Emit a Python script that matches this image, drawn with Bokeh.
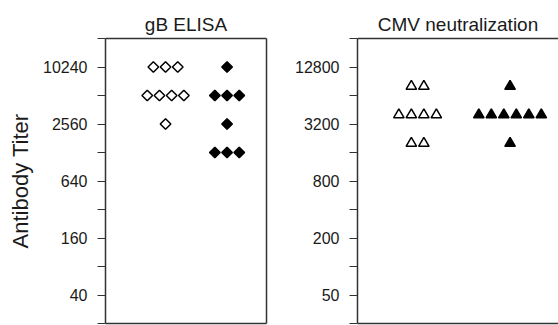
from bokeh.plotting import figure
from bokeh.layouts import row
from bokeh.models import FixedTicker, LinearAxis, Range1d
from bokeh.embed import file_html
from bokeh.resources import INLINE

# ---- data ----
gb_title = "gB ELISA"
cmv_title = "CMV neutralization"
y_label = "Antibody Titer"

gb_open = [10240, 10240, 10240, 5120, 5120, 5120, 5120, 2560]
gb_filled = [10240, 5120, 5120, 5120, 2560, 1280, 1280, 1280]
cmv_open = [8000, 8000, 4000, 4000, 4000, 4000, 2000, 2000]
cmv_filled = [8000, 4000, 4000, 4000, 4000, 4000, 4000, 2000]

gb_ticks = [20, 40, 80, 160, 320, 640, 1280, 2560, 5120, 10240, 20480]
gb_labels = ["", "40", "", "160", "", "640", "", "2560", "", "10240", ""]
cmv_ticks = [25, 50, 100, 200, 400, 800, 1600, 3200, 6400, 12800, 25600]
cmv_labels = ["", "50", "", "200", "", "800", "", "3200", "", "12800", ""]

gb_groups = [0.373, 0.755]
cmv_groups = [0.299, 0.759]

FONT = "Liberation Sans"
AX = "#333333"
TXT = "#1a1a1a"


def spread(values, center, pitch):
    xs, ys = [], []
    for v in sorted(set(values), reverse=True):
        n = values.count(v)
        for i in range(n):
            xs.append(center + (i - (n - 1) / 2) * pitch)
            ys.append(v)
    return xs, ys


def make_panel(title, ticks, labels, width, left_border, right_border, right_line):
    p = figure(width=width, height=325, y_axis_type="log",
               x_range=Range1d(0, 1), y_range=Range1d(ticks[0], ticks[-1]),
               output_backend="svg", toolbar_location=None,
               min_border_left=left_border, min_border_right=right_border,
               min_border_top=38, min_border_bottom=2, title=title)
    p.title.text_font = FONT
    p.title.text_font_size = "19px"
    p.title.text_font_style = "normal"
    p.title.align = "center"
    p.title.text_color = TXT
    p.title.standoff = 7
    p.outline_line_color = None
    p.grid.visible = False
    p.background_fill_color = "white"
    p.border_fill_color = "white"
    p.xaxis.visible = False
    ya = p.yaxis[0]
    ya.ticker = FixedTicker(ticks=ticks, minor_ticks=[])
    ya.major_label_overrides = {t: l for t, l in zip(ticks, labels)}
    ya.major_label_text_font = FONT
    ya.major_label_text_font_size = "16px"
    ya.major_label_text_color = TXT
    ya.major_label_standoff = 10
    ya.major_tick_out = 8
    ya.major_tick_in = 0
    ya.axis_line_color = AX
    ya.axis_line_width = 1.5
    ya.major_tick_line_color = AX
    ya.major_tick_line_width = 1.2
    sides = ["above", "below"] + (["right"] if right_line else [])
    for side in sides:
        ax = LinearAxis(ticker=FixedTicker(ticks=[]), major_label_text_font_size="0px",
                        axis_line_color=AX, axis_line_width=1.5,
                        major_tick_line_color=None, minor_tick_line_color=None)
        p.add_layout(ax, side)
    return p


left = make_panel(gb_title, gb_ticks, gb_labels, 270, 105, 4, True)
right = make_panel(cmv_title, cmv_ticks, cmv_labels, 288, 87, 0, False)

ya = left.yaxis[0]
ya.axis_label = y_label
ya.axis_label_text_font = FONT
ya.axis_label_text_font_size = "22px"
ya.axis_label_text_font_style = "normal"
ya.axis_label_text_color = TXT
ya.axis_label_standoff = 7

pitch_l = 12.2 / 161
pitch_r = 12.5 / 201

x, y = spread(gb_open, gb_groups[0], pitch_l)
left.scatter(x, y, marker="square", angle=0.785398, size=7.5, fill_color="white",
             line_color="black", line_width=1.5)
x, y = spread(gb_filled, gb_groups[1], pitch_l)
left.scatter(x, y, marker="square", angle=0.785398, size=7.5, fill_color="black",
             line_color="black", line_width=1.5)

x, y = spread(cmv_open, cmv_groups[0], pitch_r)
right.scatter(x, y, marker="triangle", size=10.5, fill_color="white",
              line_color="black", line_width=1.5)
x, y = spread(cmv_filled, cmv_groups[1], pitch_r)
right.scatter(x, y, marker="triangle", size=10.5, fill_color="black",
              line_color="black", line_width=1.5)

layout = row(left, right, spacing=0)
open("out.html", "w").write(file_html(layout, INLINE))
